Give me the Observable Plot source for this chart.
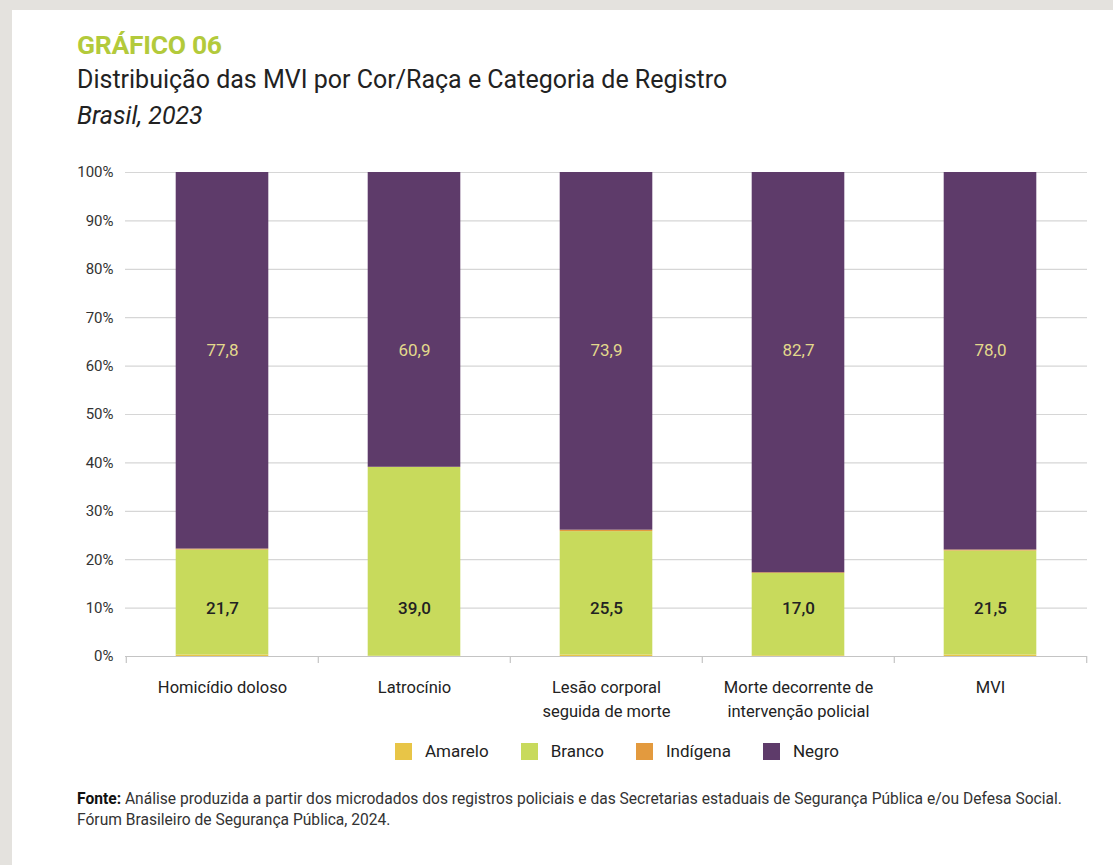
<!DOCTYPE html>
<html>
<head>
<meta charset="utf-8">
<script src="https://cdn.jsdelivr.net/npm/d3@7"></script>
<script src="https://cdn.jsdelivr.net/npm/@observablehq/plot@0.6"></script>
<style>
  html, body { margin: 0; padding: 0; }
  body { width: 1113px; height: 865px; background: #e4e2de; position: relative; overflow: hidden; font-family: Roboto, "Noto Sans", sans-serif; }
  #card { position: absolute; left: 12px; top: 10px; right: 0; bottom: 0; background: #fff; }
  #title { position: absolute; left: 77px; top: 29px; font-size: 26.5px; font-weight: 700; color: #b3ca3b; letter-spacing: -0.3px; }
  #subtitle { position: absolute; left: 77px; top: 65px; font-size: 25px; color: #222; }
  #sub2 { position: absolute; left: 77px; top: 101px; font-size: 25px; font-style: italic; color: #222; }
  #chart { position: absolute; left: 0; top: 150px; }
  #legend { position: absolute; top: 741px; left: 395px; display: flex; align-items: center; font-family: Roboto, sans-serif; font-size: 17px; color: #222; }
  #legend .item { display: flex; align-items: center; margin-right: 32px; }
  #legend .sw { width: 17px; height: 17px; margin-right: 13px; }
  #footer { position: absolute; left: 77px; top: 789px; font-family: Roboto, sans-serif; font-size: 15.6px; line-height: 21px; color: #333; }
  #footer b { color: #111; }
  svg text { font-family: Roboto, sans-serif; }
</style>
</head>
<body>
<div id="card"></div>
<div id="title">GRÁFICO 06</div>
<div id="subtitle">Distribuição das MVI por Cor/Raça e Categoria de Registro</div>
<div id="sub2">Brasil, 2023</div>
<div id="chart"></div>
<div id="legend"></div>
<div id="footer"><b>Fonte:</b> Análise produzida a partir dos microdados dos registros policiais e das Secretarias estaduais de Segurança Pública e/ou Defesa Social.<br>Fórum Brasileiro de Segurança Pública, 2024.</div>
<script>
const categories = ["Homicídio doloso", "Latrocínio", "Lesão corporal\nseguida de morte", "Morte decorrente de\nintervenção policial", "MVI"];
const series = ["Amarelo", "Branco", "Indígena", "Negro"];
const amarelo = [0.3, 0.05, 0.3, 0.15, 0.3];
const branco = [21.7, 39.0, 25.5, 17.0, 21.5];
const indigena = [0.2, 0.05, 0.3, 0.15, 0.2];
const negro = [77.8, 60.9, 73.9, 82.7, 78.0];
const yTicks = [0, 10, 20, 30, 40, 50, 60, 70, 80, 90, 100];
const colors = ["#e8c547", "#c8da5c", "#e39a3e", "#5e3b6a"];

const valuesBySeries = [amarelo, branco, indigena, negro];
const rows = [];
series.forEach((s, si) => categories.forEach((c, ci) => rows.push({cat: c, serie: s, value: valuesBySeries[si][ci]})));

const fmt = v => v.toFixed(1).replace(".", ",");
const brancoRows = categories.map((c, i) => ({cat: c, value: branco[i]}));
const negroRows = categories.map((c, i) => ({cat: c, value: negro[i]}));

const W = 1113, H = 590;
const mL = 125, mR = 26, mT = 22, mB = 84;
const bw = (W - mL - mR) / categories.length;
const barW = 93;
const inset = (bw - barW) / 2;

const chart = Plot.plot({
  width: W,
  height: H,
  marginLeft: mL,
  marginRight: mR,
  marginTop: mT,
  marginBottom: mB,
  style: {background: "transparent", fontSize: "15px", color: "#333"},
  x: {domain: categories, padding: 0, axis: null},
  y: {domain: [0, 100], ticks: yTicks, tickFormat: d => d + "%", tickSize: 0, tickPadding: 12, label: null},
  color: {domain: series, range: colors},
  marks: [
    Plot.ruleY(yTicks, {y: d => d, stroke: "#d6d6d6", strokeWidth: 1.2}),
    Plot.barY(rows, Plot.stackY({x: "cat", y: "value", fill: "serie", order: series, insetLeft: inset, insetRight: inset})),
    Plot.ruleY([0], {stroke: "#c4c4c4", strokeWidth: 1.2}),
    Plot.ruleX(categories, {x: d => d, y1: 0, y2: 0, dx: -bw / 2, insetBottom: -7, stroke: "#c4c4c4", strokeWidth: 1.2}),
    Plot.ruleX(categories.slice(-1), {x: d => d, y1: 0, y2: 0, dx: bw / 2, insetBottom: -7, stroke: "#c4c4c4", strokeWidth: 1.2}),
    Plot.text(brancoRows, {x: "cat", y: () => 10, text: d => fmt(d.value), fill: "#222", fontSize: 17, fontWeight: 500}),
    Plot.text(negroRows, {x: "cat", y: () => 63.2, text: d => fmt(d.value), fill: "#e3d98c", fontSize: 17}),
    Plot.axisX({domain: categories, tickSize: 0, tickPadding: 20, fontSize: 16.5, fill: "#222", lineHeight: 1.45, label: null, textAnchor: "middle"}),
    Plot.axisY({ticks: yTicks, tickFormat: d => d + "%", tickSize: 0, tickPadding: 12, fontSize: 15, fill: "#333", label: null})
  ]
});
document.getElementById("chart").appendChild(chart);

const legend = document.getElementById("legend");
series.forEach((s, i) => {
  const it = document.createElement("div");
  it.className = "item";
  const sw = document.createElement("div");
  sw.className = "sw";
  sw.style.background = colors[i];
  const t = document.createElement("span");
  t.textContent = s;
  it.appendChild(sw); it.appendChild(t);
  legend.appendChild(it);
});
</script>
</body>
</html>
